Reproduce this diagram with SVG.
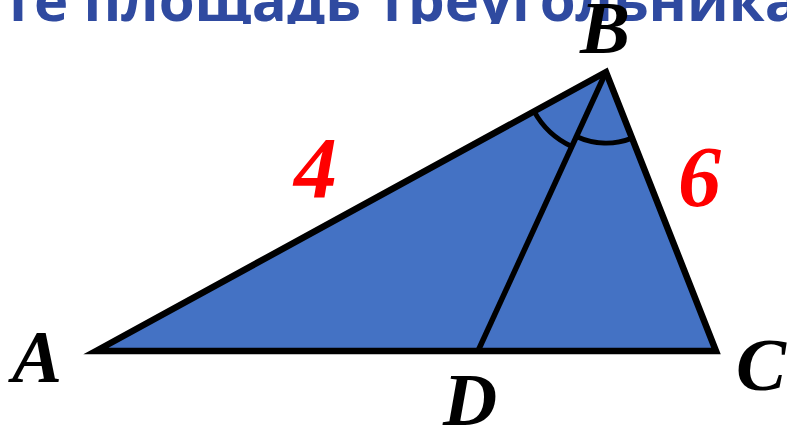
<svg xmlns="http://www.w3.org/2000/svg" width="787" height="431" viewBox="0 0 787 431">
  <defs>
    <clipPath id="titleClip"><rect x="0" y="0" width="787" height="24"/></clipPath>
  </defs>
  <style>
    .title { font-family: "Open Sans", "Noto Sans", sans-serif; font-weight: 700; font-size: 58px; fill: #2F4AA0; }
    .pt { font-family: "Liberation Serif", "Times New Roman", serif; font-weight: 700; font-style: italic; font-size: 75px; fill: #000; }
    .num { font-family: "Liberation Serif", "Times New Roman", serif; font-weight: 700; font-style: italic; font-size: 86px; fill: #FF0000; }
    .edge { fill: #4472C4; stroke: #000; stroke-width: 6.5; stroke-linejoin: miter; stroke-miterlimit: 10; }
    .arc { fill: none; stroke: #000; stroke-width: 5; }
  </style>
  <rect width="787" height="431" fill="#FFFFFF"/>
  <g id="title" clip-path="url(#titleClip)">
    <text class="title" x="2" y="21">те площадь треугольника</text>
  </g>
  <g id="triangle">
    <polygon points="96,351 606,72 716,351" class="edge"/>
  </g>
  <g id="connectors">
    <line x1="606" y1="72" x2="478" y2="351" stroke="#000" stroke-width="5.5"/>
    <path class="arc" d="M 534.1,111.4 A 82 82 0 0 0 571.8,146.5"/>
    <path class="arc" d="M 576.4,136.5 A 71 71 0 0 0 632.1,138.1"/>
  </g>
  <g id="label-A"><text class="pt" x="12" y="382">A</text></g>
  <g id="label-B"><text class="pt" x="580" y="53">B</text></g>
  <g id="label-C"><text class="pt" x="736" y="390">C</text></g>
  <g id="label-D"><text class="pt" x="443" y="425">D</text></g>
  <g id="label-4"><text class="num" x="294" y="197">4</text></g>
  <g id="label-6"><text class="num" x="678" y="206">6</text></g>
</svg>
